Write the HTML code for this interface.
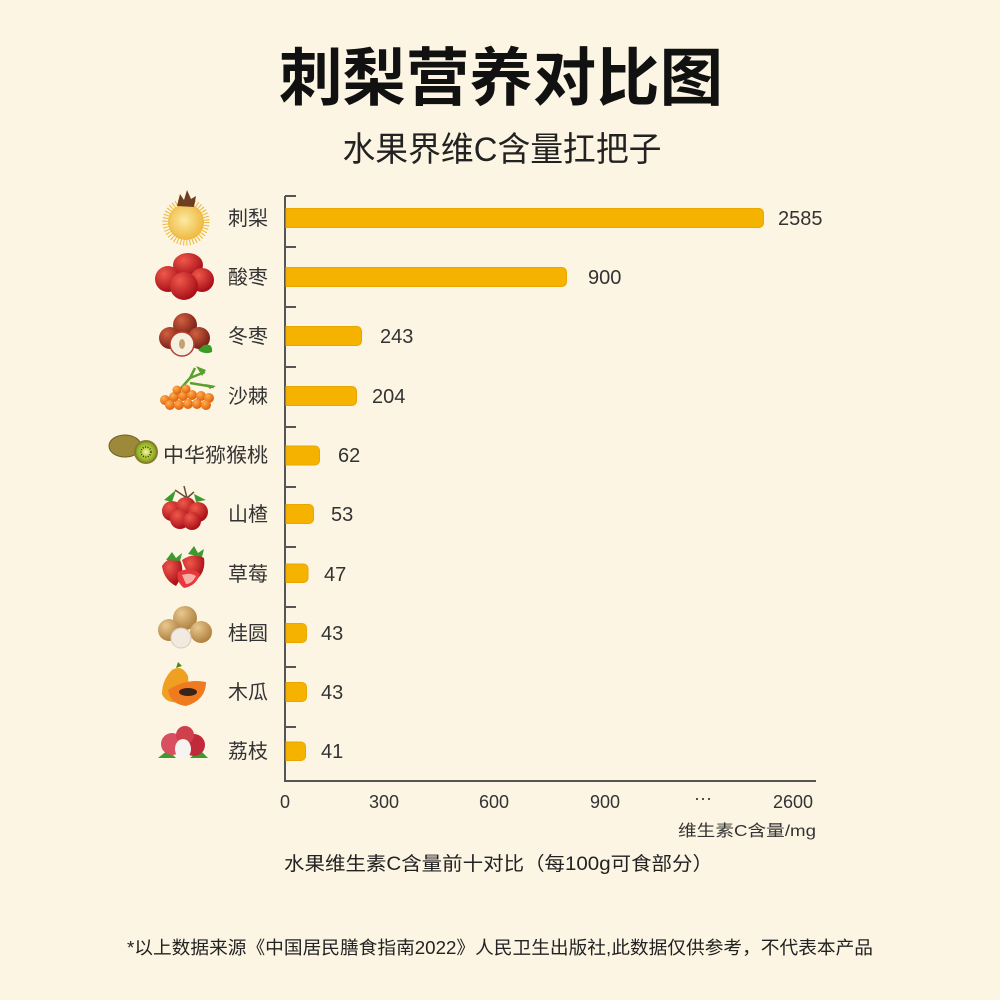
<!DOCTYPE html>
<html><head><meta charset="utf-8"><style>
html,body{margin:0;padding:0;background:#FDF5E3;}
svg{display:block;}
text{font-family:"Liberation Sans","Noto Sans CJK SC",sans-serif;}
</style></head><body>
<svg width="1000" height="1000" viewBox="0 0 1000 1000" xmlns="http://www.w3.org/2000/svg">
<defs>
<radialGradient id="gy" cx="0.45" cy="0.45" r="0.6"><stop offset="0" stop-color="#FCE9A0"/><stop offset="1" stop-color="#EDB53A"/></radialGradient>
<radialGradient id="rd" cx="0.35" cy="0.3" r="0.7"><stop offset="0" stop-color="#F0584A"/><stop offset="1" stop-color="#A8101A"/></radialGradient>
<radialGradient id="bn" cx="0.35" cy="0.3" r="0.7"><stop offset="0" stop-color="#D06040"/><stop offset="1" stop-color="#7A1F18"/></radialGradient>
<radialGradient id="tn" cx="0.35" cy="0.3" r="0.7"><stop offset="0" stop-color="#E8C890"/><stop offset="1" stop-color="#B0823F"/></radialGradient>
<radialGradient id="or" cx="0.35" cy="0.3" r="0.7"><stop offset="0" stop-color="#FFB050"/><stop offset="1" stop-color="#E0600A"/></radialGradient>
<radialGradient id="kw" cx="0.5" cy="0.5" r="0.5"><stop offset="0" stop-color="#F4F4C8"/><stop offset="0.35" stop-color="#C8D850"/><stop offset="1" stop-color="#7FA81A"/></radialGradient>
</defs>
<rect width="1000" height="1000" fill="#FDF5E3"/>

<!-- Title -->
<text x="501" y="100" font-size="63" font-weight="bold" fill="#111" text-anchor="middle" textLength="444" lengthAdjust="spacingAndGlyphs">刺梨营养对比图</text>
<text x="502" y="161" font-size="34" fill="#222" text-anchor="middle" textLength="319" lengthAdjust="spacingAndGlyphs">水果界维C含量扛把子</text>

<!-- Axes -->
<line x1="285" y1="196" x2="285" y2="782" stroke="#555" stroke-width="2"/>
<line x1="284" y1="781" x2="816" y2="781" stroke="#555" stroke-width="2"/>
<g stroke="#555" stroke-width="2">
<line x1="285" y1="196" x2="296" y2="196"/>
<line x1="285" y1="247" x2="296" y2="247"/>
<line x1="285" y1="307" x2="296" y2="307"/>
<line x1="285" y1="367" x2="296" y2="367"/>
<line x1="285" y1="427" x2="296" y2="427"/>
<line x1="285" y1="487" x2="296" y2="487"/>
<line x1="285" y1="547" x2="296" y2="547"/>
<line x1="285" y1="607" x2="296" y2="607"/>
<line x1="285" y1="667" x2="296" y2="667"/>
<line x1="285" y1="727" x2="296" y2="727"/>
</g>

<!-- Bars -->
<g fill="#F5B300" stroke="#E8A700" stroke-width="1">
<path d="M286 208.5 H759 a4.5 4.5 0 0 1 4.5 4.5 V223 a4.5 4.5 0 0 1 -4.5 4.5 H286 Z"/>
<path d="M286 267.5 H562 a4.5 4.5 0 0 1 4.5 4.5 V282 a4.5 4.5 0 0 1 -4.5 4.5 H286 Z"/>
<path d="M286 326.5 H357 a4.5 4.5 0 0 1 4.5 4.5 V341 a4.5 4.5 0 0 1 -4.5 4.5 H286 Z"/>
<path d="M286 386.5 H352 a4.5 4.5 0 0 1 4.5 4.5 V401 a4.5 4.5 0 0 1 -4.5 4.5 H286 Z"/>
<path d="M286 446 H315 a4.5 4.5 0 0 1 4.5 4.5 V460.5 a4.5 4.5 0 0 1 -4.5 4.5 H286 Z"/>
<path d="M286 504.5 H309 a4.5 4.5 0 0 1 4.5 4.5 V519 a4.5 4.5 0 0 1 -4.5 4.5 H286 Z"/>
<path d="M286 564 H303.5 a4.5 4.5 0 0 1 4.5 4.5 V578 a4.5 4.5 0 0 1 -4.5 4.5 H286 Z"/>
<path d="M286 623.5 H302 a4.5 4.5 0 0 1 4.5 4.5 V638 a4.5 4.5 0 0 1 -4.5 4.5 H286 Z"/>
<path d="M286 682.5 H302 a4.5 4.5 0 0 1 4.5 4.5 V697 a4.5 4.5 0 0 1 -4.5 4.5 H286 Z"/>
<path d="M286 742 H301 a4.5 4.5 0 0 1 4.5 4.5 V756 a4.5 4.5 0 0 1 -4.5 4.5 H286 Z"/>
</g>

<!-- Value labels -->
<g font-size="20" fill="#333">
<text x="778" y="225">2585</text>
<text x="588" y="284">900</text>
<text x="380" y="343">243</text>
<text x="372" y="403">204</text>
<text x="338" y="462">62</text>
<text x="331" y="521">53</text>
<text x="324" y="581">47</text>
<text x="321" y="640">43</text>
<text x="321" y="699">43</text>
<text x="321" y="758">41</text>
</g>

<!-- Category labels -->
<g font-size="20" fill="#333" text-anchor="end">
<text x="268" y="225">刺梨</text>
<text x="268" y="284">酸枣</text>
<text x="268" y="343">冬枣</text>
<text x="268" y="403">沙棘</text>
<text x="268" y="462" textLength="105" lengthAdjust="spacingAndGlyphs">中华猕猴桃</text>
<text x="268" y="521">山楂</text>
<text x="268" y="581">草莓</text>
<text x="268" y="640">桂圆</text>
<text x="268" y="699">木瓜</text>
<text x="268" y="758">荔枝</text>
</g>

<!-- X tick labels -->
<g font-size="18" fill="#333" text-anchor="middle">
<text x="285" y="808">0</text>
<text x="384" y="808">300</text>
<text x="494" y="808">600</text>
<text x="605" y="808">900</text>
<text x="703" y="804">···</text>
<text x="793" y="808">2600</text>
</g>
<text x="816" y="836" font-size="16" fill="#333" text-anchor="end" textLength="138" lengthAdjust="spacingAndGlyphs">维生素C含量/mg</text>
<text x="284" y="870" font-size="19" fill="#222" textLength="429" lengthAdjust="spacingAndGlyphs">水果维生素C含量前十对比（每100g可食部分）</text>

<!-- Footnote -->
<text x="127" y="954" font-size="18" fill="#222" textLength="746" lengthAdjust="spacingAndGlyphs">*以上数据来源《中国居民膳食指南2022》人民卫生出版社,此数据仅供参考，不代表本产品</text>

<!-- Fruit icons -->
<!-- 刺梨 -->
<g>
<circle cx="186" cy="222" r="18" fill="url(#gy)"/>
<circle cx="186" cy="222" r="20" fill="none" stroke="#EDB83A" stroke-width="7" stroke-dasharray="1 2"/>
<path d="M177 206 L180 194 L184 200 L187 190 L191 199 L196 196 L194 207 Z" fill="#6E3E22"/>
</g>
<!-- 酸枣 -->
<g>
<ellipse cx="188" cy="265" rx="15" ry="12" fill="url(#rd)"/>
<circle cx="168" cy="279" r="13" fill="url(#rd)"/>
<circle cx="202" cy="280" r="12" fill="url(#rd)"/>
<circle cx="184" cy="286" r="14" fill="url(#rd)"/>
</g>
<!-- 冬枣 -->
<g>
<circle cx="185" cy="325" r="12" fill="url(#bn)"/>
<circle cx="170" cy="338" r="11" fill="url(#bn)"/>
<circle cx="199" cy="338" r="11" fill="url(#bn)"/>
<path d="M204 345 Q213 343 212 352 Q205 355 198 350 Z" fill="#3A9A2A"/>
<circle cx="182" cy="344" r="12" fill="#F6F0E0" stroke="#B04030" stroke-width="1.5"/>
<ellipse cx="182" cy="344" rx="3" ry="5" fill="#C8A070"/>
</g>
<!-- 沙棘 -->
<g>
<path d="M175 395 L190 378 L195 368 M190 378 L205 372 M190 383 L214 387" stroke="#5AA030" stroke-width="2.5" fill="none"/>
<path d="M196 366 L202 376 L206 370 Z M205 384 L216 386 L210 389 Z" fill="#5AA030"/>
<g fill="url(#or)">
<circle cx="165" cy="400" r="5"/><circle cx="174" cy="397" r="5"/><circle cx="183" cy="396" r="5"/><circle cx="192" cy="395" r="5"/><circle cx="201" cy="396" r="5"/><circle cx="209" cy="398" r="5"/>
<circle cx="170" cy="405" r="5"/><circle cx="179" cy="405" r="5"/><circle cx="188" cy="404" r="5"/><circle cx="197" cy="404" r="5"/><circle cx="206" cy="405" r="5"/>
<circle cx="186" cy="389" r="4.5"/><circle cx="177" cy="390" r="4.5"/>
</g>
</g>
<!-- 猕猴桃 -->
<g>
<ellipse cx="125" cy="446" rx="16" ry="11" fill="#9C8A3A"/>
<ellipse cx="125" cy="446" rx="16" ry="11" fill="none" stroke="#6F5E22" stroke-width="1"/>
<circle cx="146" cy="452" r="12" fill="#8A7A30"/>
<circle cx="146" cy="452" r="10" fill="url(#kw)"/>
<circle cx="146" cy="452" r="5" fill="none" stroke="#3A2A10" stroke-width="1.5" stroke-dasharray="1 1.5"/>
</g>
<!-- 山楂 -->
<g>
<path d="M175 490 L187 498 M184 486 L187 498 L194 492" stroke="#6A4A30" stroke-width="1.5" fill="none"/>
<path d="M164 500 L176 490 L172 502 Z M194 494 L206 500 L196 502 Z" fill="#3C9A2E"/>
<circle cx="172" cy="511" r="10" fill="url(#rd)"/>
<circle cx="186" cy="507" r="10" fill="url(#rd)"/>
<circle cx="198" cy="512" r="10" fill="url(#rd)"/>
<circle cx="180" cy="519" r="10" fill="url(#rd)"/>
<circle cx="192" cy="521" r="9" fill="url(#rd)"/>
</g>
<!-- 草莓 -->
<g>
<path d="M162 566 Q168 556 180 560 Q186 572 176 586 Q164 580 162 566 Z" fill="url(#rd)"/>
<path d="M182 560 Q194 552 204 558 Q206 572 196 580 Q186 574 182 560 Z" fill="url(#rd)"/>
<path d="M178 572 Q192 566 200 574 Q196 586 184 588 Q176 582 178 572 Z" fill="#E8383A"/>
<path d="M182 575 Q190 572 196 576 Q192 584 186 584 Z" fill="#F8B0A8"/>
<path d="M166 560 L172 552 L176 558 L182 553 L180 561 Z M188 554 L194 546 L198 553 L204 549 L202 557 Z" fill="#3C9A2E"/>
</g>
<!-- 桂圆 -->
<g>
<circle cx="185" cy="618" r="12" fill="url(#tn)"/>
<circle cx="169" cy="630" r="11" fill="url(#tn)"/>
<circle cx="201" cy="632" r="11" fill="url(#tn)"/>
<circle cx="181" cy="638" r="10" fill="#F2EAE0" stroke="#D8C8B8" stroke-width="1"/>
</g>
<!-- 木瓜 -->
<g>
<path d="M172 670 Q182 664 188 676 Q190 692 180 702 Q166 704 162 694 Q162 680 172 670 Z" fill="#F0A020"/>
<path d="M176 668 L178 662 L182 666 Z" fill="#4A8A20"/>
<path d="M168 690 Q186 678 206 682 Q206 700 186 706 Q170 704 168 690 Z" fill="#F07A20"/>
<ellipse cx="188" cy="692" rx="9" ry="4" fill="#3A2418"/>
</g>
<!-- 荔枝 -->
<g>
<path d="M158 758 L168 750 L176 758 Z M190 758 L200 750 L208 758 Z" fill="#3C9A2E"/>
<circle cx="172" cy="744" r="11" fill="#D85060"/>
<circle cx="194" cy="745" r="11" fill="#C02A3A"/>
<circle cx="185" cy="735" r="9" fill="#D0404C"/>
<ellipse cx="183" cy="749" rx="8" ry="10" fill="#F6F4F0"/>
</g>
</svg>
</body></html>
